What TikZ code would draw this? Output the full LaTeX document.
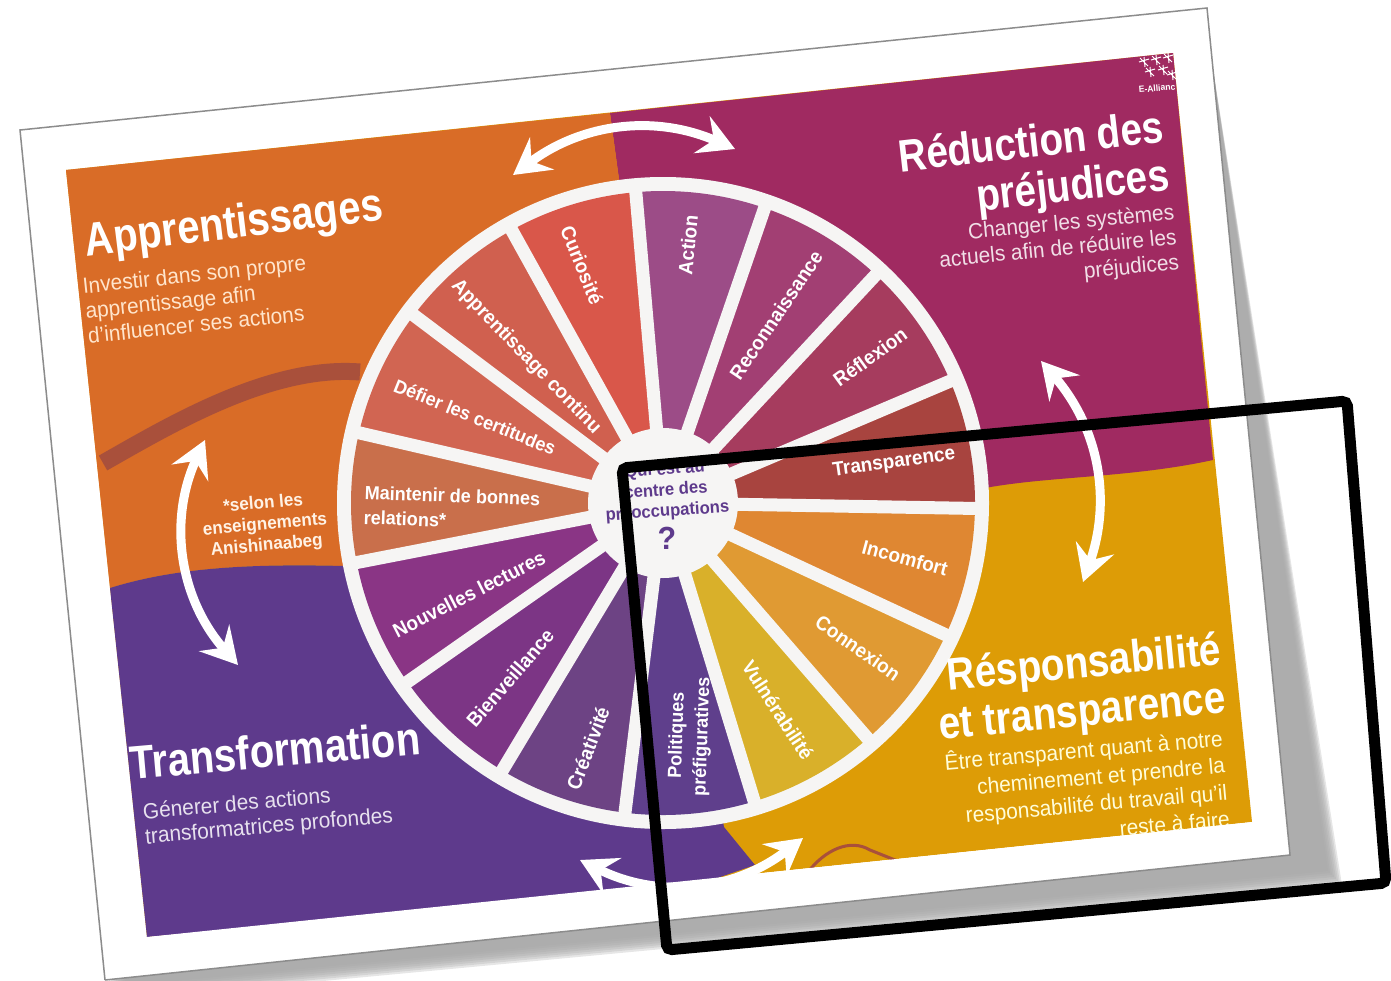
\documentclass[tikz,border=0pt]{standalone}
\usepackage{fontspec}
\setmainfont{Liberation Sans}[FakeStretch=.95]
\newfontfamily\headfont{Liberation Sans}[FakeStretch=.85]
\usepackage{tikz}
\usetikzlibrary{calc, arrows.meta}
\definecolor{orangebg}{HTML}{D96C27}
\definecolor{magentabg}{HTML}{A02A61}
\definecolor{purplebg}{HTML}{5E3A8C}
\definecolor{yellowbg}{HTML}{DD9C06}
\definecolor{wheelwhite}{HTML}{F6F5F4}
\definecolor{trailbrown}{HTML}{A9503B}
\definecolor{wact}{HTML}{9C4C87}
\definecolor{wrec}{HTML}{A23F73}
\definecolor{wref}{HTML}{A63C5E}
\definecolor{wtra}{HTML}{A8443F}
\definecolor{winc}{HTML}{DF8732}
\definecolor{wcon}{HTML}{E09A33}
\definecolor{wvul}{HTML}{D9B02A}
\definecolor{wpol}{HTML}{5F3F8C}
\definecolor{wcre}{HTML}{6D4384}
\definecolor{wbie}{HTML}{7C3585}
\definecolor{wnou}{HTML}{8A3585}
\definecolor{wmai}{HTML}{C96F4B}
\definecolor{wdef}{HTML}{D16552}
\definecolor{wapp}{HTML}{D0604F}
\definecolor{wcur}{HTML}{D9574A}

\begin{document}
\begin{tikzpicture}[x=1pt,y=-1pt,
            head/.style={font=\headfont\bfseries\fontsize{47}{52}\selectfont, text=white, inner sep=0pt},
            headsmall/.style={font=\headfont\bfseries\fontsize{45.5}{48}\selectfont, text=white, inner sep=0pt},
            blurb/.style={font=\fontsize{22}{25}\selectfont, inner sep=0pt},
            slice/.style={font=\bfseries\fontsize{20}{25}\selectfont, text=white, inner sep=0pt},
            slicesmall/.style={font=\bfseries\fontsize{19}{25}\selectfont, text=white, inner sep=0pt},
            spoke/.style={draw=wheelwhite, line width=13pt},
            swoop/.style={draw=white, line width=9pt, {Stealth[length=36pt,width=40pt,inset=13pt]}-{Stealth[length=36pt,width=40pt,inset=13pt]}}]
            \useasboundingbox (0,0) rectangle (1391,980);
            \foreach \i in {0,...,7}
                \fill[gray!70, opacity=.28] (1210,50) -- (1342-2*\i,885-2*\i) -- (100,1002-2*\i) -- cycle;
            \fill[white] (20,130) -- (1207,8) -- (1290,855) -- (105,980) -- cycle;
            \draw[gray!90, line width=1.5pt] (105,980) -- (20,130) -- (1207,8) -- (1290,855) -- (105,980);
            \fill[yellowbg] (66,170) -- (1173,53) -- (1252,822) -- (147,937) -- cycle;
            \fill[magentabg] (610,113) -- (1173,53) -- (1213,460) .. controls (1130,478) and (1050,476) .. (985,488) -- (663,503) -- cycle;
            \fill[orangebg] (66,170) -- (610,113) -- (663,503) -- (345,566) .. controls (260,564) and (180,566) .. (110,588) -- cycle;
            \fill[purplebg] (110,588) .. controls (180,566) and (260,564) .. (345,566) -- (663,503) -- (724,827) -- (755,865) -- (697,885) -- (147,937) -- cycle;
            \draw[trailbrown, line width=17pt] (103,463) .. controls (170,425) and (270,365) .. (360,372);
            \draw[trailbrown, line width=3pt] (808,872) .. controls (825,850) and (850,838) .. (870,850) to (900,862);

            \coordinate (hub) at (663,503);
            \node[circle, fill=wheelwhite, minimum size=652pt, inner sep=0pt] (rim) at (hub) {};
            \foreach \a/\c in {-95/wact, -71/wrec, -47/wref, -23/wtra, 1/winc, 25/wcon, 49/wvul, 73/wpol, 97/wcre, 121/wbie, 145/wnou, 169/wmai, 193/wdef, 217/wapp, 241/wcur}
                \fill[\c] ($(hub)+(\a:70)$) -- ($(hub)+(\a:312)$) arc[start angle=\a, delta angle=24, radius=312] -- ($(hub)+(\a+24:70)$) arc[start angle=\a+24, delta angle=-24, radius=70] -- cycle;
            \foreach \a in {-95, -71, ..., 241}
                \draw[spoke] (hub) -- ($(hub)+(\a:318)$);
            \node[circle, fill=wheelwhite, minimum size=150pt, inner sep=0pt] (core) at (hub) {};

            \node[slice, rotate=84] (action) at (688,245) {Action};
            \node[slice, rotate=56] (reconnaissance) at (776,315) {Reconnaissance};
            \node[slice, rotate=36] (reflexion) at (870,357) {Réflexion};
            \node[slice, rotate=8] (transparence) at (894,463) {Transparence};
            \node[slice, rotate=-15] (incomfort) at (905,558) {Incomfort};
            \node[slice, rotate=-35] (connexion) at (858,648) {Connexion};
            \node[slice, rotate=-57] (vulnerabilite) at (778,710) {Vulnérabilité};
            \node[slicesmall, rotate=88, align=center] (politiques) at (690,736) {Politiques\\préfiguratives};
            \node[slice, rotate=69] (creativite) at (588,748) {Créativité};
            \node[slice, rotate=49] (bienveillance) at (510,678) {Bienveillance};
            \node[slice, rotate=27] (nouvelles) at (469,594) {Nouvelles lectures};
            \node[slicesmall, rotate=-2, align=left] (maintenir) at (452,508) {Maintenir de bonnes\\relations*};
            \node[slicesmall, rotate=-22] (defier) at (475,417) {Défier les certitudes};
            \node[slice, rotate=-46] (apprentissage) at (526,357) {Apprentissage continu};
            \node[slice, rotate=-68] (curiosite) at (582,265) {Curiosité};

            \node[font=\bfseries\fontsize{17.5}{21}\selectfont, text=purplebg, rotate=4, align=center, inner sep=0pt] (question) at (666,491) {Qui est au\\centre des\\préoccupations};
            \node[font=\bfseries\fontsize{32}{34}\selectfont, text=purplebg, inner sep=0pt] (mark) at (667,538) {?};

            \node[head, rotate=7, align=left] (learn) at (234,226) {Apprentissages};
            \node[blurb, text=orange!20!white, rotate=6, align=left] (learntext) at (197,299) {Investir dans son propre\\apprentissage afin\\d'influencer ses actions};
            \node[headsmall, rotate=6.5, align=right] (harm) at (1034,169) {Réduction des\\préjudices\hspace{8pt}};
            \node[blurb, text=magentabg!15!white, rotate=5.5, align=right] (harmtext) at (1058,250) {Changer les systèmes\\actuels afin de réduire les\\préjudices};
            \node[head, rotate=5, align=left] (change) at (275,750) {Transformation};
            \node[blurb, text=purplebg!15!white, rotate=5, align=left] (changetext) at (268,815) {Génerer des actions\\transformatrices profondes};
            \node[headsmall, rotate=5.5, align=right] (duty) at (1080,690) {Résponsabilité\\et transparence};
            \node[blurb, font=\fontsize{22}{27}\selectfont, text=yellow!15!white, rotate=5, align=right] (dutytext) at (1087,789) {Être transparent quant à notre\\cheminement et prendre la\\responsabilité du travail qu'il\\reste à faire};
            \node[font=\bfseries\fontsize{18}{21}\selectfont, text=orange!10!white, rotate=5, align=center, inner sep=0pt] (note) at (265,525) {*selon les\\enseignements\\Anishinaabeg};

            \foreach \x/\y in {1144/62, 1156/60, 1168/58, 1150/72, 1163/70, 1172/75}
                \draw[white, line width=1pt] (\x-5,\y) -- (\x+5,\y-3) (\x,\y-5) -- (\x+1,\y+5) (\x-4,\y-4) -- (\x+4,\y+4);
            \node[font=\bfseries\fontsize{9}{10}\selectfont, text=white, rotate=5, inner sep=0pt] (logo) at (1157,88) {E-Allianc};

            \fill[white] (147,937) -- (1252,822) -- (1268,842) -- (165,957) -- cycle;

            \coordinate (topl) at (513,175);
            \coordinate (topr) at (735,149);
            \coordinate (rightt) at (1041,361);
            \coordinate (rightb) at (1083,582);
            \coordinate (leftt) at (205,440);
            \coordinate (leftb) at (238,665);
            \coordinate (botl) at (580,860);
            \coordinate (botr) at (803,838);
            \draw[swoop] (topl) to[bend left=30] (topr);
            \draw[swoop] (rightt) to[bend left=30] (rightb);
            \draw[swoop] (leftt) to[bend right=33] (leftb);
            \draw[swoop] (botl) to[bend right=32] (botr);

            \draw[black, line width=11pt, rounded corners=5pt] (622,468) -- (1347,401) -- (1386,883) -- (667,950) -- cycle;
        \end{tikzpicture}
\end{document}
